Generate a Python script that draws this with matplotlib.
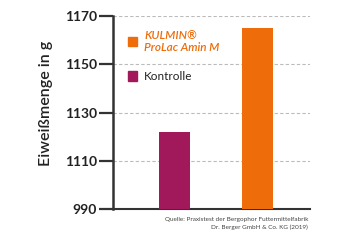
import matplotlib
matplotlib.use("Agg")
import matplotlib.pyplot as plt
from matplotlib.patches import Patch

categories = ["Kontrolle", "KULMIN®\nProLac Amin M"]
values = [1122, 1165]
colors = ["#A2195B", "#EE6C0A"]
tick_values = [1090, 1110, 1130, 1150, 1170]
tick_labels = ["990", "1110", "1130", "1150", "1170"]
source = "Quelle: Praxistest der Bergophor Futtermittelfabrik\nDr. Berger GmbH & Co. KG (2019)"

plt.rcParams['font.family'] = ['Lato', 'DejaVu Sans']

fig = plt.figure(figsize=(3.6, 2.4), dpi=100)
ax = fig.add_axes([0.314, 0.129, 0.547, 0.804])

base = tick_values[0]
x = list(range(len(categories)))
bars = ax.bar(x, [v - base for v in values], bottom=base, width=0.376,
              color=colors, zorder=3)

ax.set_ylim(tick_values[0], tick_values[-1])
ax.set_xlim(-0.75, 1.64)
ax.set_yticks(tick_values)
ax.set_yticklabels(tick_labels, fontsize=10, fontweight='bold', color='#222222')
ax.set_xticks([])
for t in tick_values[1:]:
    ax.axhline(t, color='#BBBBBB', lw=0.8, ls=(0, (3, 2)), zorder=1)

for s in ['top', 'right']:
    ax.spines[s].set_visible(False)
ax.spines['left'].set_linewidth(1.8)
ax.spines['left'].set_color('#333333')
ax.spines['bottom'].set_linewidth(1.5)
ax.spines['bottom'].set_color('#333333')
ax.tick_params(axis='y', length=10, width=1.6, color='#333333', pad=1.5)

fig.text(0.128, 0.571, "Eiweißmenge in g", rotation=90, ha='center', va='center',
         fontsize=11.5, fontweight='semibold', color='#222222')

handles = [Patch(color=colors[1]), Patch(color=colors[0])]
leg = ax.legend(handles, [categories[1], categories[0]], loc='upper left',
                bbox_to_anchor=(0.02, 0.985), frameon=False, handlelength=0.8,
                handleheight=0.8, handletextpad=0.6, labelspacing=1.5, fontsize=8.5)
t0, t1 = leg.get_texts()
t0.set_color(colors[1]); t0.set_fontweight('semibold'); t0.set_fontstyle('italic')
t1.set_color('#222222')

fig.text(0.856, 0.095, source, ha='right', va='top', fontsize=4.6, color='#444444',
         linespacing=1.5)

fig.savefig("out.png", dpi=100)
